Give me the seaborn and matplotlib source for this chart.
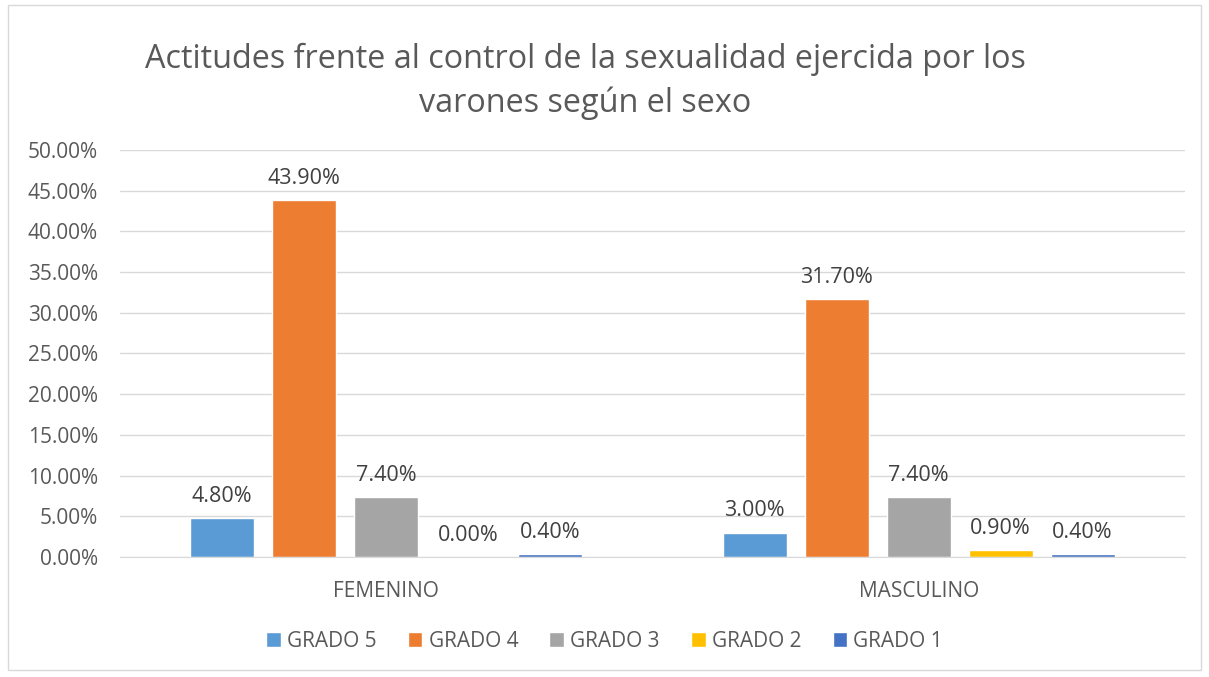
import matplotlib
matplotlib.use("Agg")
import matplotlib.pyplot as plt
import seaborn as sns
import pandas as pd
from matplotlib.patches import Rectangle

# data
sexos = ["FEMENINO", "MASCULINO"]
grados = ["GRADO 5", "GRADO 4", "GRADO 3", "GRADO 2", "GRADO 1"]
femenino = [4.8, 43.9, 7.4, 0.0, 0.4]
masculino = [3.0, 31.7, 7.4, 0.9, 0.4]
colores = ["#5B9BD5", "#ED7D31", "#A5A5A5", "#FFC000", "#4472C4"]

rows = []
for sexo, vals in zip(sexos, [femenino, masculino]):
    for g, v in zip(grados, vals):
        rows.append({"sexo": sexo, "grado": g, "valor": v})
df = pd.DataFrame(rows)

sns.set_style("white")
plt.rcParams["font.family"] = ["Open Sans", "DejaVu Sans"]

fig = plt.figure(figsize=(12.09, 6.77), dpi=100)
ax = fig.add_axes([0.0993, 0.1773, 0.8807, 0.6011])

sns.barplot(data=df, x="sexo", y="valor", hue="grado", order=sexos,
            hue_order=grados, palette=colores, width=0.77, gap=0.22,
            saturation=1, ax=ax, legend=True)

ax.set_ylim(0, 50)
ax.set_xlim(-0.5, 1.5)
ax.set_yticks(range(0, 51, 5))
ax.set_yticklabels([f"{t:.2f}%" for t in range(0, 51, 5)])
ax.yaxis.grid(True, color="#D9D9D9", linewidth=1)
ax.set_axisbelow(True)
for s in ["top", "right", "left"]:
    ax.spines[s].set_visible(False)
ax.spines["bottom"].set_color("#D9D9D9")
ax.tick_params(axis="both", length=0, labelsize=15, colors="#595959")
ax.tick_params(axis="y", pad=16)
ax.tick_params(axis="x", pad=17)
ax.set_xlabel("")
ax.set_ylabel("")

# value labels
for cont in ax.containers:
    ax.bar_label(cont, labels=[f"{b.get_height():.2f}%" for b in cont],
                 padding=8, fontsize=15.5, color="#404040")

# legend centred on the whole chart area, like Excel
leg = ax.legend(loc="center", bbox_to_anchor=(0.5, 0.053), bbox_transform=fig.transFigure,
                ncol=5, frameon=False, fontsize=15, handlelength=0.7, handleheight=0.7,
                handletextpad=0.3, columnspacing=1.5, labelcolor="#595959")

fig.text(0.484, 0.88, "Actitudes frente al control de la sexualidad ejercida por los\nvarones según el sexo",
         ha="center", va="center", fontsize=23.3, color="#595959", linespacing=1.4)

fig.patches.append(Rectangle((0.007, 0.01), 0.986, 0.983, transform=fig.transFigure,
                             fill=False, edgecolor="#D9D9D9", linewidth=1))

fig.savefig("out.png", dpi=100)
